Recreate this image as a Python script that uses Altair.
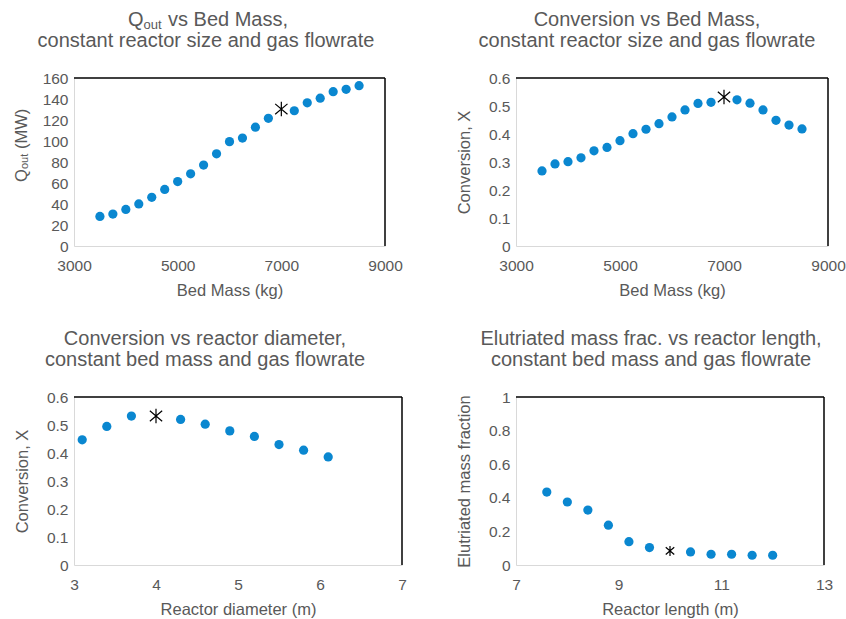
import altair as alt
import pandas as pd

BLUE = "#0A87D0"
GREY = "#595959"
FONT = "Liberation Sans"

# Panel 1 & 2: bed mass sweep
bed_mass = [3500, 3750, 4000, 4250, 4500, 4750, 5000, 5250, 5500, 5750, 6000,
            6250, 6500, 6750, 7000, 7250, 7500, 7750, 8000, 8250, 8500]
q_out = [28.2, 30.4, 34.8, 40.1, 46.4, 53.9, 61.4, 68.7, 77.1, 87.8, 99.4,
         102.8, 113.2, 121.6, 130.4, 128.8, 136.4, 140.8, 147.0, 149.2, 152.7]
conv_mass = [0.268, 0.293, 0.301, 0.315, 0.340, 0.352, 0.376, 0.401, 0.417, 0.437, 0.461,
             0.486, 0.509, 0.513, 0.532, 0.522, 0.510, 0.486, 0.449, 0.432, 0.418]
design_mass = 7000

# Panel 3: reactor diameter sweep
diameter = [3.1, 3.4, 3.7, 4.0, 4.3, 4.6, 4.9, 5.2, 5.5, 5.8, 6.1]
conv_diam = [0.447, 0.495, 0.532, 0.532, 0.520, 0.503, 0.479, 0.459, 0.430, 0.410, 0.386]
design_diam = 4.0

# Panel 4: reactor length sweep
length = [7.6, 8.0, 8.4, 8.8, 9.2, 9.6, 10.0, 10.4, 10.8, 11.2, 11.6, 12.0]
elutriated = [0.434, 0.375, 0.327, 0.237, 0.139, 0.104, 0.084, 0.078, 0.064, 0.064, 0.058, 0.058]
design_len = 10.0

STAR = "M0,-1L0,1M-0.85,-0.72L0.85,0.72M-0.85,0.72L0.85,-0.72"
TITLE_SIZE = 20


def one(text):
    return pd.DataFrame({"t": [text]})


def txt(text, x, y, size, angle=0, align="left", baseline="alphabetic"):
    return alt.Chart(one(text)).mark_text(
        font=FONT, fontSize=size, color=GREY, align=align, baseline=baseline, angle=angle
    ).encode(text="t:N", x=alt.value(x), y=alt.value(y))


def panel(xs, ys, design, xdom, xticks, ydom, yticks, yfmt, xtitle, ytitle,
          w, h, star_size, extras):
    df = pd.DataFrame({"x": xs, "y": ys})
    df["design"] = [abs(v - design) < 1e-9 for v in xs]
    X = alt.X("x:Q", scale=alt.Scale(domain=xdom, nice=False, zero=False),
              axis=alt.Axis(values=xticks, format="d", title=xtitle))
    Y = alt.Y("y:Q", scale=alt.Scale(domain=ydom, nice=False, zero=False),
              axis=alt.Axis(values=yticks, format=yfmt, title=ytitle))
    base = alt.Chart(df)
    dots = base.transform_filter("!datum.design").mark_circle(
        size=85, color=BLUE, opacity=1).encode(x=X, y=Y)
    star = base.transform_filter("datum.design").mark_point(
        shape=STAR, size=star_size, color="black", strokeWidth=1.2,
        filled=False, opacity=1).encode(x=X, y=Y)
    top = alt.Chart(one("")).mark_rule(color="black", strokeWidth=1.5).encode(
        x=alt.value(0), x2=alt.value(w), y=alt.value(0))
    right = alt.Chart(one("")).mark_rule(color="black", strokeWidth=1.5).encode(
        x=alt.value(w), y=alt.value(0), y2=alt.value(h))
    return alt.layer(dots, star, top, right, *extras).properties(width=w, height=h)


H = 168
L1, L2 = -52, -31

p1 = panel(bed_mass, q_out, design_mass, [3000, 9000], [3000, 5000, 7000, 9000],
           [0, 160], [0, 20, 40, 60, 80, 100, 120, 140, 160], "d",
           "Bed Mass (kg)", None, 311, H, 210,
           [txt("Q", 54, L1, TITLE_SIZE),
            txt("out", 69.5, L1 + 2.5, 13),
            txt("vs Bed Mass,", 94, L1, TITLE_SIZE),
            txt("constant reactor size and gas flowrate", 132, L2, TITLE_SIZE, align="center"),
            txt("Q", -52, 104, 16.5, angle=270, baseline="middle"),
            txt("out", -49, 91, 11, angle=270, baseline="middle"),
            txt("(MW)", -52, 71, 16.5, angle=270, baseline="middle")])

p2 = panel(bed_mass, conv_mass, design_mass, [3000, 9000], [3000, 5000, 7000, 9000],
           [0, 0.6], [0, 0.1, 0.2, 0.3, 0.4, 0.5, 0.6], "~g",
           "Bed Mass (kg)", "Conversion, X", 312, H, 210,
           [txt("Conversion vs Bed Mass,", 131, L1, TITLE_SIZE, align="center"),
            txt("constant reactor size and gas flowrate", 131, L2, TITLE_SIZE, align="center")])

p3 = panel(diameter, conv_diam, design_diam, [3, 7], [3, 4, 5, 6, 7],
           [0, 0.6], [0, 0.1, 0.2, 0.3, 0.4, 0.5, 0.6], "~g",
           "Reactor diameter (m)", "Conversion, X", 328, H, 210,
           [txt("Conversion vs reactor diameter,", 131, L1, TITLE_SIZE, align="center"),
            txt("constant bed mass and gas flowrate", 131, L2, TITLE_SIZE, align="center")])

p4 = panel(length, elutriated, design_len, [7, 13], [7, 9, 11, 13],
           [0, 1], [0, 0.2, 0.4, 0.6, 0.8, 1], "~g",
           "Reactor length (m)", "Elutriated mass fraction", 308, H, 100,
           [txt("Elutriated mass frac. vs reactor length,", 135, L1, TITLE_SIZE, align="center"),
            txt("constant bed mass and gas flowrate", 135, L2, TITLE_SIZE, align="center")])

chart = alt.concat(p1, p2, p3, p4, columns=2).properties(
    bounds="flush", spacing={"row": 151, "column": 114},
    padding={"left": 14, "top": 10, "right": 0, "bottom": 0}
).configure_view(stroke=None).configure_axis(
    labelFont=FONT, titleFont=FONT, labelColor=GREY, titleColor=GREY,
    labelFontSize=15.5, titleFontSize=16.5, titleFontWeight="normal",
    ticks=False, tickSize=0, grid=False, domainColor="#D9D9D9", domainWidth=1,
    labelFlush=False, zindex=1
).configure_axisX(labelPadding=12, titlePadding=9).configure_axisY(
    labelPadding=6, titlePadding=16)

chart.save("out.html", embed_options={"renderer": "svg", "actions": False})
